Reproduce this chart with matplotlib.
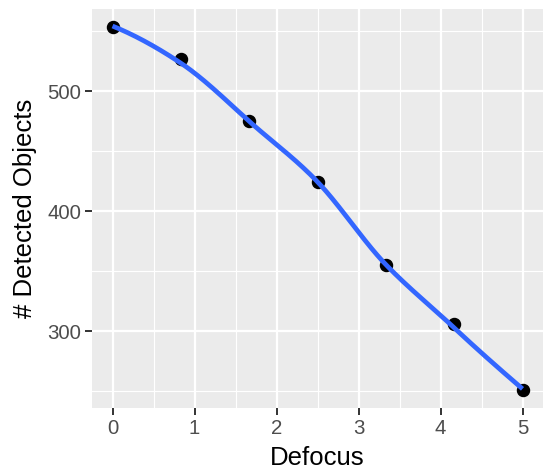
import numpy as np
import matplotlib
matplotlib.use("Agg")
import matplotlib.pyplot as plt

# Data
defocus = [0.0, 0.8333, 1.6667, 2.5, 3.3333, 4.1667, 5.0]
detected = [553.5, 527.0, 475.0, 424.5, 355.5, 306.0, 251.0]
x_ticks = [0, 1, 2, 3, 4, 5]
y_ticks = [300, 400, 500]


def local_fit(x, y, x0, q):
    d = np.abs(x - x0)
    h = np.sort(d)[q - 1]
    u = np.clip(d / h, 0, 1)
    w = (1 - u ** 3) ** 3
    X = np.vstack([np.ones(len(x)), x - x0, (x - x0) ** 2]).T
    W = np.diag(w)
    beta = np.linalg.lstsq(X.T @ W @ X, X.T @ W @ y, rcond=None)[0]
    return beta[0], beta[1]


def loess_interp(x, y, xs, span=0.75):
    # loess (degree 2) evaluated at kd-tree vertices, cubic Hermite in between
    x = np.asarray(x, float)
    y = np.asarray(y, float)
    n = len(x)
    q = int(np.floor(n * span))
    lo, hi = x.min(), x.max()
    t = 0.005 * (hi - lo)
    verts = {lo - t, hi + t}

    def split(pts):
        if len(pts) <= 1:
            return
        m = (len(pts) + 1) // 2
        verts.add(pts[m - 1])
        split(pts[:m])
        split(pts[m:])

    split(sorted(x))
    v = np.array(sorted(verts))
    fv = np.array([local_fit(x, y, vi, q) for vi in v])
    out = []
    for xi in xs:
        k = min(np.searchsorted(v, xi) - 1, len(v) - 2)
        k = max(k, 0)
        x0, x1 = v[k], v[k + 1]
        hh = x1 - x0
        s = (xi - x0) / hh
        h00 = 2 * s ** 3 - 3 * s ** 2 + 1
        h10 = s ** 3 - 2 * s ** 2 + s
        h01 = -2 * s ** 3 + 3 * s ** 2
        h11 = s ** 3 - s ** 2
        out.append(h00 * fv[k, 0] + h10 * hh * fv[k, 1] +
                   h01 * fv[k + 1, 0] + h11 * hh * fv[k + 1, 1])
    return np.array(out)


xs = np.linspace(min(defocus), max(defocus), 300)
ys = loess_interp(defocus, detected, xs)

plt.rcParams['font.family'] = ['Liberation Sans', 'DejaVu Sans']

fig = plt.figure(figsize=(5.5, 4.75), dpi=100)
ax = fig.add_axes([92 / 550, 1 - 408 / 475, (543 - 92) / 550, (408 - 9) / 475])
ax.set_facecolor('#EBEBEB')

ax.set_xticks(x_ticks)
ax.set_yticks(y_ticks)
ax.set_xticks([t + 0.5 for t in x_ticks[:-1]], minor=True)
ax.set_yticks([250, 350, 450, 550], minor=True)
ax.set_xticklabels([str(t) for t in x_ticks])
ax.set_yticklabels([str(t) for t in y_ticks])

xr = max(defocus) - min(defocus)
yr = max(detected) - min(detected)
ax.set_xlim(min(defocus) - 0.05 * xr, max(defocus) + 0.05 * xr)
ax.set_ylim(min(detected) - 0.05 * yr, max(detected) + 0.05 * yr)

ax.grid(which='major', color='white', linewidth=1.6)
ax.grid(which='minor', color='white', linewidth=0.8)
ax.set_axisbelow(True)
for s in ax.spines.values():
    s.set_visible(False)

ax.tick_params(which='major', length=5, width=1.4, color='#333333',
               labelsize=14.7, labelcolor='#4D4D4D', pad=3)
ax.tick_params(which='minor', length=0)

ax.scatter(defocus, detected, s=75, color='black', zorder=3)
ax.plot(xs, ys, color='#3366FF', linewidth=3.4, zorder=4, solid_capstyle='butt')

ax.set_xlabel('Defocus', fontsize=18.5, color='black', labelpad=6)
ax.set_ylabel('# Detected Objects', fontsize=18.5, color='black', labelpad=7)

fig.savefig('out.png', dpi=100)
